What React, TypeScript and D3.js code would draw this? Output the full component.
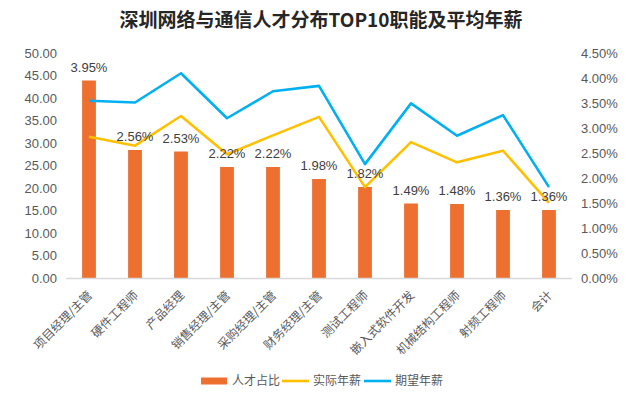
import React, { useEffect, useRef } from "react";
import * as d3 from "d3";

const categories = ["项目经理/主管", "硬件工程师", "产品经理", "销售经理/主管", "采购经理/主管", "财务经理/主管", "测试工程师", "嵌入式软件开发", "机械结构工程师", "射频工程师", "会计"];
const talentShare = [3.95, 2.56, 2.53, 2.22, 2.22, 1.98, 1.82, 1.49, 1.48, 1.36, 1.36];
const actualSalary = [31.4, 29.4, 36.0, 27.5, 31.7, 35.8, 20.2, 30.2, 25.7, 28.3, 16.7];
const expectedSalary = [39.4, 39.0, 45.5, 35.5, 41.5, 42.7, 25.3, 38.8, 31.6, 36.2, 20.2];
const leftTicks = [0, 5, 10, 15, 20, 25, 30, 35, 40, 45, 50];
const rightTicks = [0, 0.5, 1, 1.5, 2, 2.5, 3, 3.5, 4, 4.5];

const W = 641, H = 395;
const ORANGE = "#ED7031";
const YELLOW = "#FFC000";
const BLUE = "#00B0F0";
const LATIN = "'Liberation Sans', Arial, sans-serif";
const CJK = "'Noto Sans CJK SC', 'Liberation Sans', sans-serif";

export default function App() {
  const ref = useRef<SVGSVGElement>(null);
  useEffect(() => {
    const svg = d3.select(ref.current);
    svg.selectAll("*").remove();
    const x0 = 66, x1 = 572, yTop = 53, yBot = 278;
    const x = d3.scaleBand<string>().domain(categories).range([x0, x1]).paddingInner(0.7).paddingOuter(0.35);
    const yL = d3.scaleLinear().domain([0, 50]).range([yBot, yTop]);
    const yR = d3.scaleLinear().domain([0, 4.5]).range([yBot, yTop]);
    const cx = (c: string) => (x(c) as number) + x.bandwidth() / 2;

    svg.append("text").attr("x", 321).attr("y", 27).attr("text-anchor", "middle")
      .attr("font-family", CJK).attr("font-weight", "bold").attr("font-size", 19).attr("fill", "#262626")
      .text("深圳网络与通信人才分布TOP10职能及平均年薪");

    // left axis labels
    svg.append("g").selectAll("text").data(leftTicks).join("text")
      .attr("x", 57).attr("y", d => yL(d)).attr("dy", "0.35em").attr("text-anchor", "end")
      .attr("font-family", LATIN).attr("font-size", 13).attr("fill", "#595959")
      .text(d => d3.format(".2f")(d));
    // right axis labels
    svg.append("g").selectAll("text").data(rightTicks).join("text")
      .attr("x", 581).attr("y", d => yR(d)).attr("dy", "0.35em").attr("text-anchor", "start")
      .attr("font-family", LATIN).attr("font-size", 13).attr("fill", "#595959")
      .text(d => d3.format(".2f")(d) + "%");

    // bars
    svg.append("g").selectAll("rect").data(talentShare).join("rect")
      .attr("x", (d, i) => x(categories[i]) as number).attr("width", x.bandwidth())
      .attr("y", d => yR(d)).attr("height", d => yBot - yR(d)).attr("fill", ORANGE);

    // axis line
    svg.append("line").attr("x1", x0).attr("x2", x1).attr("y1", yBot + 0.5).attr("y2", yBot + 0.5)
      .attr("stroke", "#D9D9D9").attr("stroke-width", 1.5);

    // lines
    const line = d3.line<number>().x((d, i) => cx(categories[i])).y(d => yL(d));
    svg.append("path").attr("d", line(actualSalary)).attr("fill", "none").attr("stroke", YELLOW).attr("stroke-width", 2.6).attr("stroke-linejoin", "round");
    svg.append("path").attr("d", line(expectedSalary)).attr("fill", "none").attr("stroke", BLUE).attr("stroke-width", 2.6).attr("stroke-linejoin", "round");

    // bar labels
    svg.append("g").selectAll("text").data(talentShare).join("text")
      .attr("x", (d, i) => cx(categories[i])).attr("y", d => yR(d) - 9).attr("text-anchor", "middle")
      .attr("font-family", LATIN).attr("font-size", 13).attr("fill", "#404040")
      .text(d => d3.format(".2f")(d) + "%");

    // x labels
    svg.append("g").selectAll("text").data(categories).join("text")
      .attr("transform", c => `translate(${cx(c) + 4},${yBot + 18}) rotate(-45)`)
      .attr("text-anchor", "end")
      .attr("font-family", CJK).attr("font-size", 12).attr("fill", "#595959")
      .text(c => c);

    // legend
    const ly = 381;
    const lg = svg.append("g");
    lg.append("rect").attr("x", 201).attr("y", ly - 3.5).attr("width", 26).attr("height", 7).attr("fill", ORANGE);
    lg.append("text").attr("x", 232).attr("y", ly).attr("dy", "0.35em").attr("font-family", CJK).attr("font-size", 12).attr("fill", "#595959").text("人才占比");
    lg.append("line").attr("x1", 282).attr("x2", 309).attr("y1", ly).attr("y2", ly).attr("stroke", YELLOW).attr("stroke-width", 2.6);
    lg.append("text").attr("x", 313).attr("y", ly).attr("dy", "0.35em").attr("font-family", CJK).attr("font-size", 12).attr("fill", "#595959").text("实际年薪");
    lg.append("line").attr("x1", 364).attr("x2", 391).attr("y1", ly).attr("y2", ly).attr("stroke", BLUE).attr("stroke-width", 2.6);
    lg.append("text").attr("x", 395).attr("y", ly).attr("dy", "0.35em").attr("font-family", CJK).attr("font-size", 12).attr("fill", "#595959").text("期望年薪");
  }, []);
  return (
    <svg ref={ref} width={W} height={H} style={{ position: "absolute", left: 0, top: 0, background: "#fff" }} />
  );
}
